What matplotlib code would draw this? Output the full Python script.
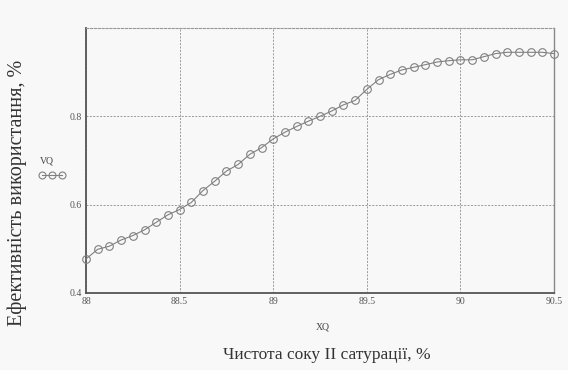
import numpy as np
import matplotlib
matplotlib.use('Agg')
import matplotlib.pyplot as plt

# Дані
xq = np.linspace(88, 90.5, 41)
vq = [0.477, 0.499, 0.506, 0.520, 0.530, 0.543, 0.560, 0.577, 0.589, 0.605,
      0.632, 0.653, 0.676, 0.691, 0.714, 0.729, 0.749, 0.764, 0.777, 0.789,
      0.800, 0.812, 0.826, 0.836, 0.861, 0.883, 0.895, 0.905, 0.911, 0.917,
      0.923, 0.926, 0.928, 0.928, 0.935, 0.942, 0.945, 0.945, 0.945, 0.945,
      0.942]
xticks = [88, 88.5, 89, 89.5, 90, 90.5]
xtick_labels = ['88', '88.5', '89', '89.5', '90', '90.5']
yticks = [0.4, 0.6, 0.8]
ytick_labels = ['0.4', '0.6', '0.8']

plt.rcParams['font.family'] = ['Liberation Serif', 'DejaVu Serif']

fig = plt.figure(figsize=(5.68, 3.70), dpi=100)
fig.patch.set_facecolor('#f8f8f8')
ax = fig.add_axes([86 / 568, 1 - 293 / 370, 468 / 568, 265 / 370])
ax.set_facecolor('#f8f8f8')

ax.plot(xq, vq, color='#808080', lw=0.8, marker='o', ms=5.5,
        mfc='none', mec='#808080', mew=0.8, clip_on=False, zorder=3)

ax.set_xlim(88, 90.5)
ax.set_ylim(0.4, 1.0)
ax.set_xticks(xticks)
ax.set_xticklabels(xtick_labels)
ax.set_yticks(yticks)
ax.set_yticklabels(ytick_labels)
ax.tick_params(length=0, labelsize=7, colors='#555555', pad=3)
ax.grid(True, color='#999999', ls=(0, (2, 1.5)), lw=0.7)

for s in ['left', 'bottom']:
    ax.spines[s].set_color('#555555')
    ax.spines[s].set_linewidth(1.3)
ax.spines['right'].set_color('#888888')
ax.spines['right'].set_linewidth(1.0)
ax.spines['top'].set_color('#999999')
ax.spines['top'].set_linestyle((0, (2, 1.5)))
ax.spines['top'].set_linewidth(0.8)

# підписи осей
fig.text(323 / 568, 1 - 327 / 370, 'XQ', fontsize=7, color='#444444',
         ha='center', va='center')
fig.text(327 / 568, 1 - 355 / 370, 'Чистота соку II сатурації, %',
         fontsize=12.5, color='#333333', ha='center', va='center')
fig.text(17 / 568, 1 - 193 / 370, 'Ефективність використання, %',
         fontsize=14.5, color='#333333', ha='center', va='center',
         rotation=90)
fig.text(47 / 568, 1 - 161 / 370, 'VQ', fontsize=7, color='#444444',
         ha='center', va='center')
fig.lines.append(plt.Line2D([42 / 568, 52 / 568, 62 / 568], [1 - 175 / 370] * 3,
                            transform=fig.transFigure, color='#808080',
                            lw=0.8, marker='o', ms=5, mfc='none',
                            mec='#808080', mew=0.8, zorder=3))

fig.savefig('out.png', dpi=100, facecolor=fig.get_facecolor())
